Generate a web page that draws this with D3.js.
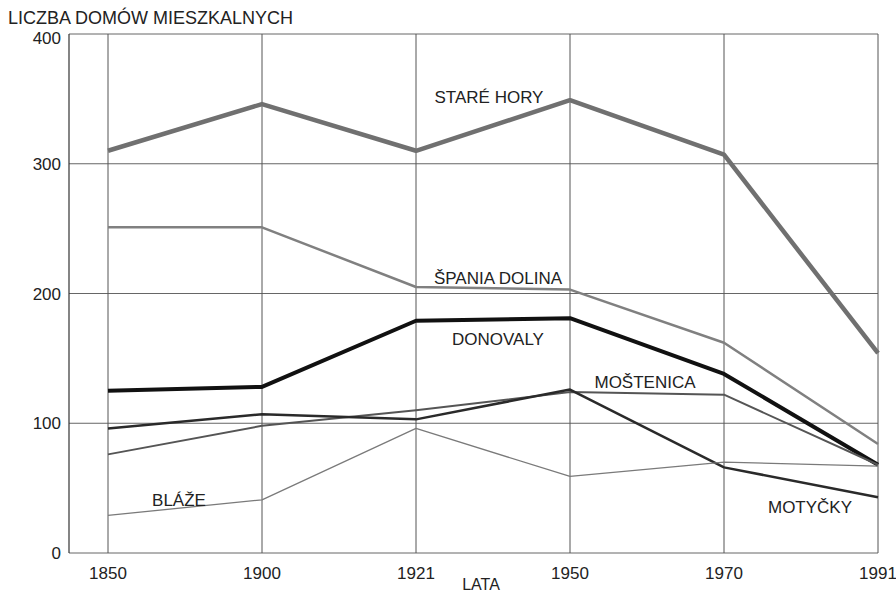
<!DOCTYPE html>
<html>
<head>
<meta charset="utf-8">
<script src="https://cdn.jsdelivr.net/npm/d3@7"></script>
<style>
body { margin: 0; background: #fff; }
text { font-family: "Liberation Sans", Arial, sans-serif; fill: #222; }
</style>
</head>
<body>
<script>
var years = ["1850", "1900", "1921", "1950", "1970", "1991"];
var yTicks = [0, 100, 200, 300, 400];

var stareHory = [310, 346, 310, 349, 307, 154];
var spaniaDolina = [251, 251, 205, 203, 162, 84];
var donovaly = [125, 128, 179, 181, 138, 68];
var mostenica = [76, 98, 110, 124, 122, 68];
var motycky = [96, 107, 103, 126, 66, 43];
var blaze = [29, 41, 96, 59, 70, 67];

var series = [
	{ name: "STARÉ HORY", values: stareHory, color: "#707070", width: 4.5 },
	{ name: "ŠPANIA DOLINA", values: spaniaDolina, color: "#808080", width: 2.5 },
	{ name: "DONOVALY", values: donovaly, color: "#111", width: 4 },
	{ name: "MOŠTENICA", values: mostenica, color: "#555", width: 2 },
	{ name: "MOTYČKY", values: motycky, color: "#2a2a2a", width: 2.5 },
	{ name: "BLÁŽE", values: blaze, color: "#7a7a7a", width: 1.3 }
];

// label positions (anchor middle)
var labels = [
	{ text: "STARÉ HORY", x: 489, y: 103 },
	{ text: "ŠPANIA DOLINA", x: 498, y: 284 },
	{ text: "DONOVALY", x: 498, y: 345 },
	{ text: "MOŠTENICA", x: 645, y: 388 },
	{ text: "MOTYČKY", x: 810, y: 513 },
	{ text: "BLÁŽE", x: 179, y: 506 }
];

var svg = d3.select("body").append("svg").attr("width", 896).attr("height", 592);

var pLeft = 69, pRight = 878, pTop = 34, pBottom = 553;

var x = d3.scalePoint().domain(years).range([108, pRight]);
var y = d3.scaleLinear().domain([0, 400]).range([pBottom, pTop]);

// horizontal grid
svg.selectAll(".hgrid").data(yTicks).enter().append("line")
	.attr("x1", pLeft).attr("x2", pRight)
	.attr("y1", function(d) { return y(d); }).attr("y2", function(d) { return y(d); })
	.attr("stroke", "#666").attr("stroke-width", 1);

// vertical grid
svg.selectAll(".vgrid").data(years).enter().append("line")
	.attr("x1", function(d) { return x(d); }).attr("x2", function(d) { return x(d); })
	.attr("y1", pTop).attr("y2", pBottom)
	.attr("stroke", "#555").attr("stroke-width", 1);

// left axis line
svg.append("line").attr("x1", pLeft).attr("x2", pLeft).attr("y1", pTop).attr("y2", pBottom)
	.attr("stroke", "#333").attr("stroke-width", 1.2);

// y tick labels (top one sits a bit lower, under the title)
svg.selectAll(".ylab").data(yTicks).enter().append("text")
	.attr("x", 61).attr("y", function(d) { return Math.max(y(d) + 6, 44); })
	.attr("text-anchor", "end").attr("font-size", 17)
	.text(function(d) { return d; });

// x tick labels
svg.selectAll(".xlab").data(years).enter().append("text")
	.attr("x", function(d) { return x(d); }).attr("y", 579)
	.attr("text-anchor", "middle").attr("font-size", 17)
	.text(function(d) { return d; });

svg.append("text").attr("x", 481).attr("y", 590).attr("text-anchor", "middle")
	.attr("font-size", 16).text("LATA");

svg.append("text").attr("x", 8).attr("y", 24).attr("font-size", 18)
	.text("LICZBA DOMÓW MIESZKALNYCH");

var line = d3.line()
	.x(function(d, i) { return x(years[i]); })
	.y(function(d) { return y(d); });

svg.selectAll(".series").data(series).enter().append("path")
	.attr("d", function(d) { return line(d.values); })
	.attr("fill", "none")
	.attr("stroke", function(d) { return d.color; })
	.attr("stroke-width", function(d) { return d.width; })
	.attr("stroke-linejoin", "round");

svg.selectAll(".slabel").data(labels).enter().append("text")
	.attr("x", function(d) { return d.x; }).attr("y", function(d) { return d.y; })
	.attr("text-anchor", "middle").attr("font-size", 17)
	.text(function(d) { return d.text; });
</script>
</body>
</html>
